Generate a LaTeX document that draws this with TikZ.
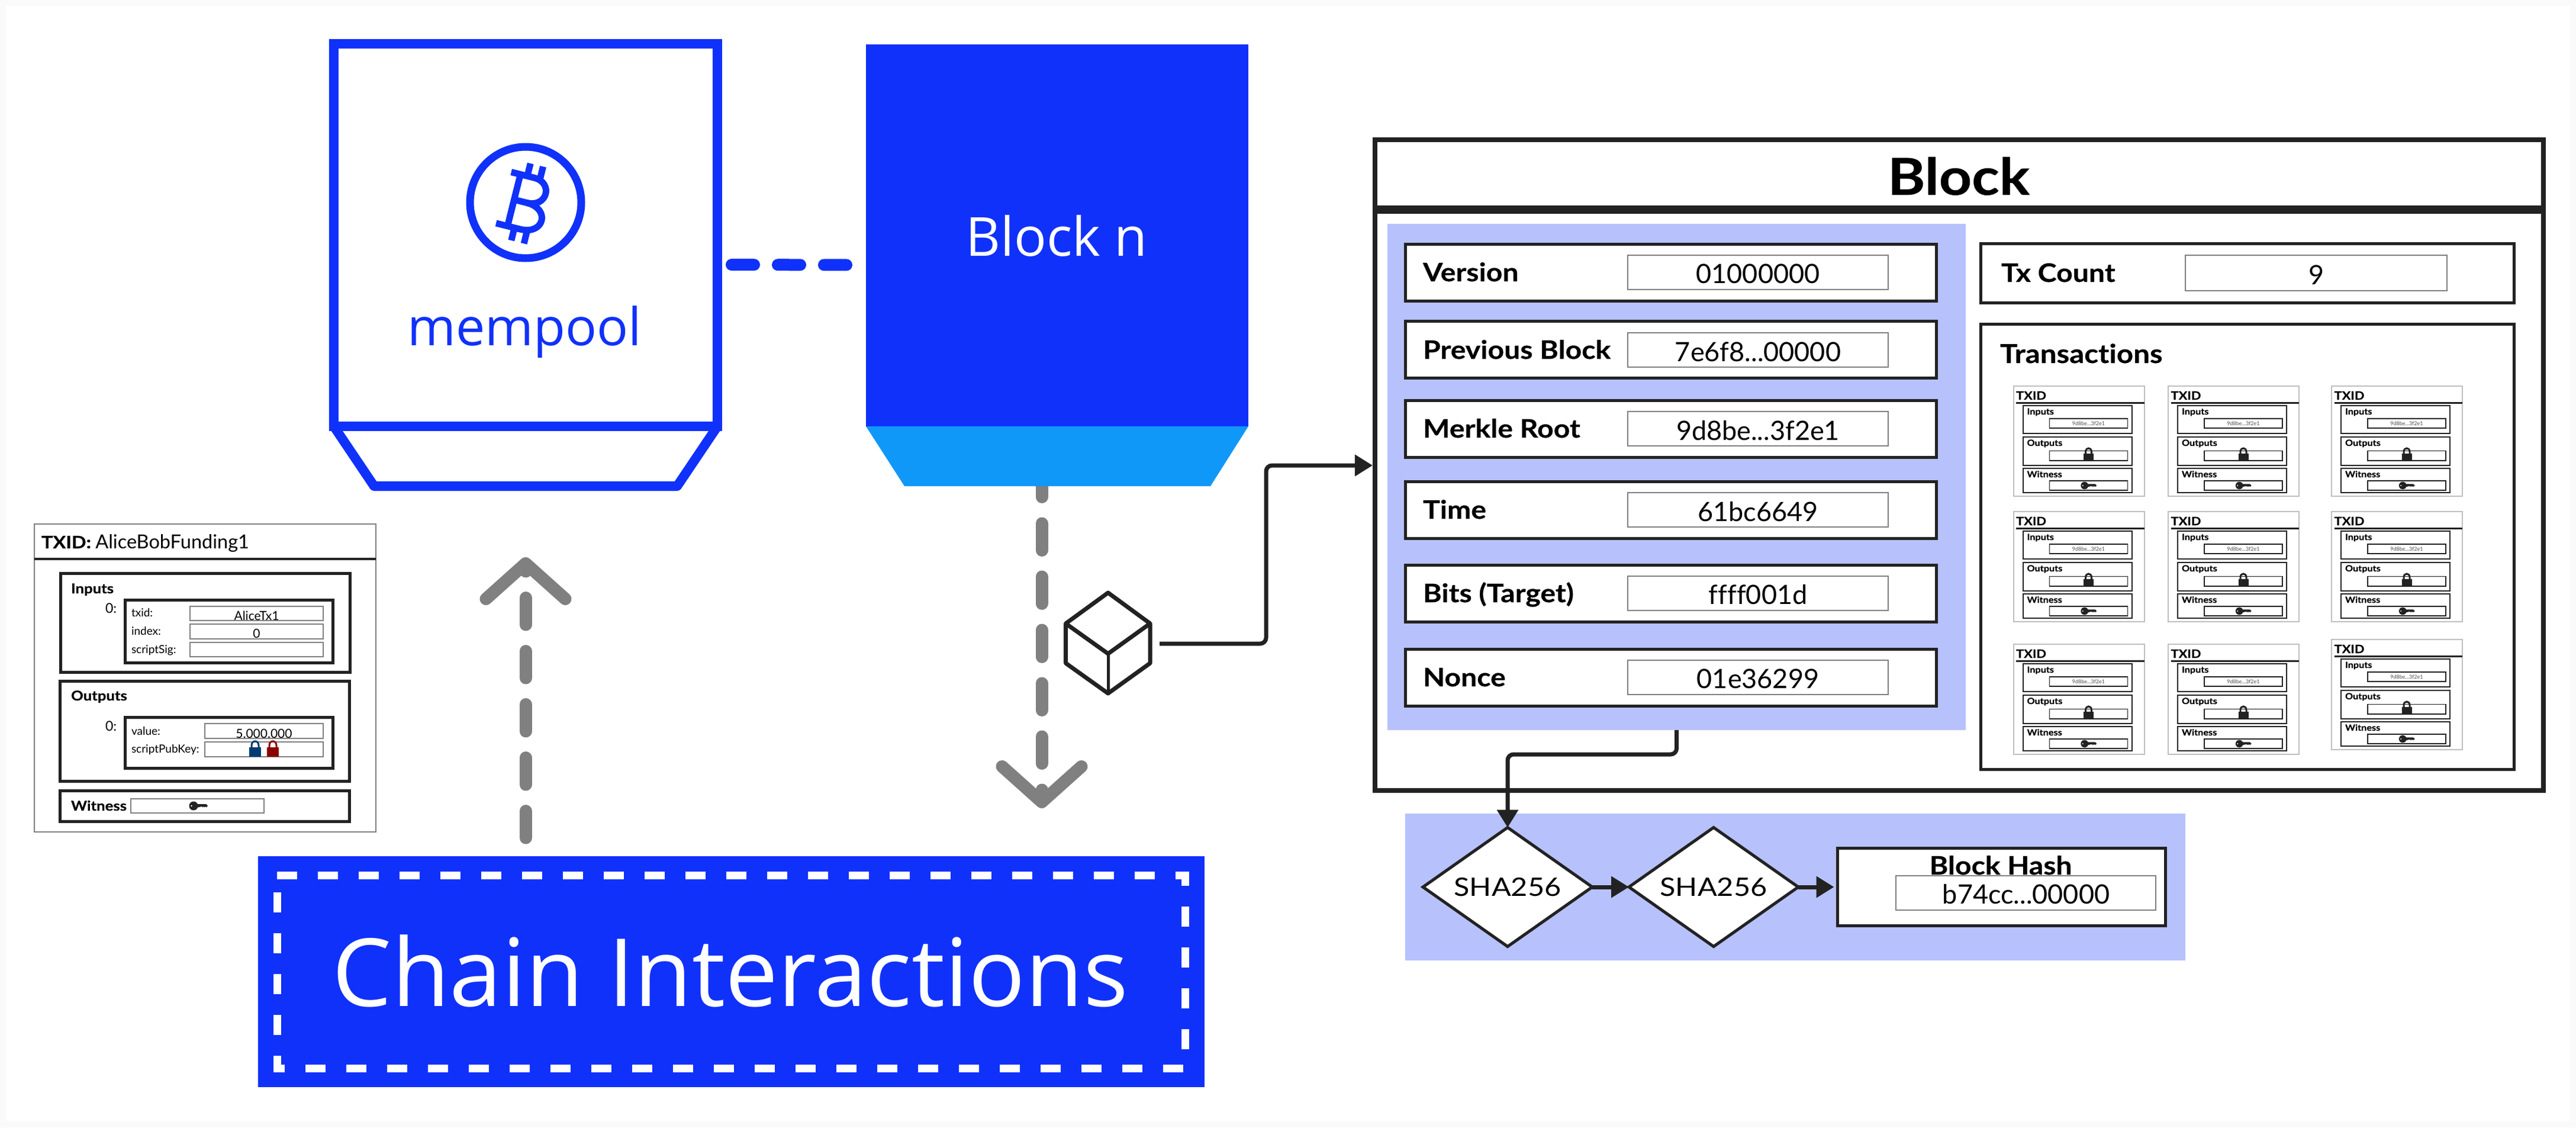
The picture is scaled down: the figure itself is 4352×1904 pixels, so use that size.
\documentclass[tikz,border=0pt]{standalone}
\usepackage{fontspec}
\setmainfont{Lato}[Ligatures=NoCommon, BoldFeatures={FakeStretch=1.12, FakeBold=0.4}]
\newfontfamily\displayfont{Open Sans}[Ligatures=NoCommon]
\newfontfamily\hashfont{Lato}[Ligatures=NoCommon, FakeStretch=1.13]
\usetikzlibrary{arrows.meta,calc,shapes.geometric}
\definecolor{chainblue}{HTML}{1031FA}
\definecolor{skyblue}{HTML}{1098F9}
\definecolor{panelblue}{HTML}{B7C1FC}
\definecolor{inkline}{HTML}{222222}
\definecolor{flowgray}{HTML}{808080}
\definecolor{edgewhite}{HTML}{FAFAFA}
\definecolor{lockblue}{HTML}{003C71}
\definecolor{lockred}{HTML}{8B0000}
\newcommand{\fpx}[1]{\fontsize{#1}{#1}\selectfont}
\tikzset{
  sized/.style 2 args={minimum width=#1pt, minimum height=#2pt, inner sep=0pt, outer sep=0pt},
  heavybox/.style={draw=inkline, fill=white, line width=5pt},
  fieldbox/.style={draw=flowgray, fill=white, line width=2pt},
  tag/.style={inner sep=0pt, outer sep=0pt, anchor=base west},
  midtag/.style={inner sep=0pt, outer sep=0pt, anchor=base},
  rowname/.style={tag, font=\fpx{43}\bfseries},
  rowvalue/.style={midtag, font=\fpx{45}},
  smallname/.style={tag, font=\fpx{23}\bfseries},
  smallfield/.style={tag, font=\fpx{19}},
  smallvalue/.style={midtag, font=\fpx{21}},
  conn/.style={draw=inkline, line width=7pt, rounded corners=10pt, -{Triangle[length=30pt,width=35pt]}},
  flow/.style={draw=flowgray, line width=21pt, line cap=round, dash pattern=on 45.4pt off 44.6pt,
    -{Straight Barb[round,length=60pt,width=134pt]}},
  padlock/.pic={
    \fill[pic actions] (-8,0) rectangle (8,-12);
    \draw[pic actions, fill=none, line width=3pt] (-5,-11) -- (-5,-15) .. controls (-5,-23) and (5,-23) .. (5,-15) -- (5,-11);
  },
  brasskey/.pic={
    \fill[pic actions] (-8,0) circle [radius=7.5];
    \fill[white] (-11.5,0) circle [radius=1.4];
    \fill[pic actions] (-3,-3) -- (13,-3) -- (16,-0.5) -- (14,2.5) -- (12,1) -- (11,2.5) -- (9,1) -- (8,2.5) -- (6,1) -- (-3,3) -- cycle;
  },
  txmini/.pic={
    \node[sized={221}{186}, draw=black!25, line width=2pt, fill=white] (-frame) at (110.5,93) {};
    \node[tag, font=\fpx{19.5}\bfseries] (-title) at (4.6,23) {TXID};
    \draw[draw=inkline, line width=3pt] (4.6,28.5) -- (221,28.5);
    \node[sized={184}{47}, draw=inkline, line width=2pt] (-ins) at (108,56.5) {};
    \node[sized={184}{48}, draw=inkline, line width=2pt] (-outs) at (108,110) {};
    \node[sized={184}{41}, draw=inkline, line width=2pt] (-wit) at (108,159.5) {};
    \node[sized={132}{16}, draw=inkline, line width=1.5pt] (-insval) at (127,63) {};
    \node[sized={132}{16.5}, draw=inkline, line width=1.5pt] (-outsval) at (127,117.7) {};
    \node[sized={132}{16}, draw=inkline, line width=1.5pt] (-witval) at (127,168) {};
    \node[tag, font=\fpx{14.5}\bfseries] (-intag) at (23,48) {Inputs};
    \node[tag, font=\fpx{14.5}\bfseries] (-outtag) at (23,101) {Outputs};
    \node[tag, font=\fpx{14.5}\bfseries] (-wittag) at (23,154) {Witness};
    \node[midtag, font=\fpx{9}, text=black!70] (-hash) at (127,66) {9d8be...3f2e1};
    \pic[fill=inkline, draw=inkline] at (127,126) {padlock};
    \pic[fill=inkline, scale=.85] at (127,168) {brasskey};
  }
}
\begin{document}
\begin{tikzpicture}[x=1pt, y=-1pt]
    \useasboundingbox (0,0) rectangle (4352,1904);
    \fill[edgewhite] (0,0) rectangle (4352,1904);
    \fill[white] (10,10) rectangle (4342,1893);

    % where the gray flows start and stop
    \coordinate (chainout) at (888,1415);
    \coordinate (mempoolin) at (888,941);
    \coordinate (blockout) at (1760,794);
    \coordinate (chainin) at (1760,1365);
    \draw [flow] (blockout) -- (chainin);

    % mempool
    \node [sized={648}{646}, draw=chainblue, line width=16pt] (mempool) at (888,397) {};
    \draw [draw=chainblue, line width=16pt, line join=round] (mempool.south west) -- (632,821) -- (1144,821) -- (mempool.south east);
    \node [circle, sized={188}{188}, draw=chainblue, line width=13pt] (coinring) at (888,342) {};
    \begin{scope}[shift={(888,342)}, rotate=-14, draw=chainblue, line width=11pt]
      \draw (-36,-44) -- (4,-44) .. controls (38,-44) and (38,0) .. (2,0) -- (-20,0);
      \draw (2,0) .. controls (44,0) and (44,46) .. (2,46) -- (-40,46);
      \draw (-20,-44) -- (-20,46);
      \draw (-8,-66) -- (-8,-44);
      \draw (14,-66) -- (14,-44);
      \draw (-8,46) -- (-8,68);
      \draw (14,46) -- (14,68);
    \end{scope}
    \node [midtag, font=\displayfont\fpx{88}, text=chainblue] (mempooltag) at (886,583) {mempool};

    % next block
    \node [sized={646}{645}, fill=chainblue] (blockn) at (1786,397.5) {};
    \fill [skyblue] (blockn.south west) -- (1528,821) -- (2045,821) -- (blockn.south east) -- cycle;
    \node [midtag, font=\displayfont\fpx{91}, text=white] (blockntag) at (1785,432) {Block n};
    \draw [draw=chainblue, line width=20pt, line cap=round, dash pattern=on 38pt off 40pt, shorten <=24pt, shorten >=32pt] ([yshift=-50pt]mempool.east) -- ([yshift=-50pt]blockn.west);

    % chain interactions
    \node [sized={1599}{390}, fill=chainblue] (chainbox) at (1235.5,1641) {};
    \draw [draw=white, line width=13pt, dash pattern=on 34pt off 35pt] (468,1478) -- (2002,1478) -- (2002,1804) -- (468,1804) -- cycle;
    \node [midtag, font=\displayfont\fpx{159}, text=white] (chaintag) at (1234,1699) {Chain Interactions};
    \draw [flow] (chainout) -- (mempoolin);

    % the transaction on the left
    \node [sized={577}{520}, draw=flowgray, line width=2.5pt] (txpanel) at (346.5,1145) {};
    \draw [draw=inkline, line width=3.5pt] (58,944) -- (635,944);
    \node [tag, font=\fpx{29}] (txtitle) at (70,926) {\textbf{TXID:} {\fpx{32.5}AliceBobFunding1}};
    \node [sized={489}{167}, heavybox] (inbox) at (346.5,1051.5) {};
    \node [sized={489}{169}, heavybox] (outbox) at (346,1235) {};
    \node [sized={489}{52}, heavybox] (witbox) at (346,1361) {};
    \node [smallname] (intag) at (120,1002) {Inputs};
    \node [smallname] (outtag) at (120,1183) {Outputs};
    \node [smallname] (wittag) at (120,1369) {Witness};
    \node [tag, font=\fpx{23}] (inzero) at (178,1035) {0:};
    \node [tag, font=\fpx{23}] (outzero) at (178,1234) {0:};
    \node [sized={351}{106}, heavybox] (ininner) at (386.5,1066) {};
    \node [sized={351}{86}, heavybox] (outinner) at (386.5,1254) {};
    \node [smallfield] (txidtag) at (222,1041.5) {txid:};
    \node [smallfield] (indextag) at (222,1072) {index:};
    \node [smallfield] (sigtag) at (222,1103) {scriptSig:};
    \node [sized={225}{24.5}, fieldbox] (txidval) at (433.5,1036) {};
    \node [sized={225}{25}, fieldbox] (indexval) at (433.5,1066.5) {};
    \node [sized={225}{24}, fieldbox] (sigval) at (433.5,1097) {};
    \node [smallvalue] (txidtxt) at (433.5,1047) {AliceTx1};
    \node [smallvalue] (indextxt) at (433.5,1077) {0};
    \node [smallfield] (valuetag) at (222,1241) {value:};
    \node [smallfield] (pubkeytag) at (222,1271) {scriptPubKey:};
    \node [sized={200}{25}, fieldbox] (valueval) at (446,1234.5) {};
    \node [sized={200}{25}, fieldbox] (pubkeyval) at (446,1265) {};
    \node [smallvalue] (valuetxt) at (446,1246.5) {5.000.000};
    \pic [fill=lockblue, draw=lockblue, scale=1.2] at (431,1277) {padlock};
    \pic [fill=lockred, draw=lockred, scale=1.2] at (461,1277) {padlock};
    \node [sized={225}{24}, fieldbox] (witval) at (333.5,1361) {};
    \pic [fill=inkline] at (335,1361) {brasskey};

    % cube that leaves the block
    \node [sized={143}{170}] (cube) at (1872,1086) {};
    \draw [draw=inkline, line width=7pt, line join=round] (1872,1001) -- (1943,1053) -- (1943,1120) -- (1872,1171) -- (1800.5,1120) -- (1800.5,1053) -- cycle;
    \draw [draw=inkline, line width=7pt, line join=round] (1800.5,1053) -- (1872,1104) -- (1943,1053);
    \draw [draw=inkline, line width=5pt] (1872,1104) -- (1872,1171);

    % block
    \node [sized={1974}{1099}, draw=inkline, line width=7.5pt, fill=white] (blockbox) at (3310,785.5) {};
    \draw [draw=inkline, line width=14pt] (2323,354) -- (4297,354);
    \node [midtag, font=\fpx{86}\bfseries] (blocktitle) at (3309,329) {Block};
    \node [sized={977}{855}, fill=panelblue] (headpanel) at (2832.5,805.5) {};

    \node [sized={897}{96}, heavybox] (versionrow) at (2822.5,460.5) {};
    \node [sized={897}{96}, heavybox] (prevrow) at (2822.5,590.5) {};
    \node [sized={897}{96}, heavybox] (merklerow) at (2822.5,724.5) {};
    \node [sized={897}{96}, heavybox] (timerow) at (2822.5,861) {};
    \node [sized={897}{96}, heavybox] (bitsrow) at (2822.5,1002) {};
    \node [sized={897}{96}, heavybox] (noncerow) at (2822.5,1144.5) {};
    \node [sized={440}{58}, fieldbox] (versionval) at (2970,460) {};
    \node [sized={440}{58}, fieldbox] (prevval) at (2970,591) {};
    \node [sized={440}{58}, fieldbox] (merkleval) at (2970,724) {};
    \node [sized={440}{58}, fieldbox] (timeval) at (2970,861) {};
    \node [sized={440}{58}, fieldbox] (bitsval) at (2970,1002) {};
    \node [sized={440}{58}, fieldbox] (nonceval) at (2970,1144) {};
    \node [rowname] (versiontag) at (2404,475) {Version};
    \node [rowname] (prevtag) at (2404,606) {Previous Block};
    \node [rowname] (merkletag) at (2404,739) {Merkle Root};
    \node [rowname] (timetag) at (2404,876) {Time};
    \node [rowname] (bitstag) at (2404,1017) {Bits (Target)};
    \node [rowname] (noncetag) at (2404,1159) {Nonce};
    \node [rowvalue] (versiontxt) at (2970,478) {01000000};
    \node [rowvalue] (prevtxt) at (2970,610) {7e6f8...00000};
    \node [rowvalue] (merkletxt) at (2970,743) {9d8be...3f2e1};
    \node [rowvalue] (timetxt) at (2970,880) {61bc6649};
    \node [rowvalue] (bitstxt) at (2970,1020.5) {ffff001d};
    \node [rowvalue] (noncetxt) at (2970,1162.5) {01e36299};

    \node [sized={901}{100}, heavybox] (countbox) at (3796.5,461) {};
    \node [rowname] (counttag) at (3381,476) {Tx Count};
    \node [sized={442}{60}, fieldbox] (countval) at (3913,460.5) {};
    \node [rowvalue] (counttxt) at (3913,480) {9};
    \node [sized={901}{752}, heavybox] (txbox) at (3796.5,923) {};
    \node [tag, font=\fpx{44}\bfseries] (txtag) at (3379,613) {Transactions};
    \pic (txa) at (3401.5,652) {txmini};
    \pic (txb) at (3663,652) {txmini};
    \pic (txc) at (3939,652) {txmini};
    \pic (txd) at (3401.5,864) {txmini};
    \pic (txe) at (3663,864) {txmini};
    \pic (txf) at (3939,864) {txmini};
    \pic (txg) at (3401.5,1088) {txmini};
    \pic (txh) at (3663,1088) {txmini};
    \pic (txi) at (3939,1080) {txmini};

    % hashing
    \node [sized={1318}{248}, fill=panelblue] (hashpanel) at (3033,1498) {};
    \node [diamond, sized={286}{201}, aspect=1.42, draw=inkline, line width=5pt, fill=white, font=\hashfont\fpx{43}] (shaone) at (2547,1498) {SHA256};
    \node [diamond, sized={286}{201}, aspect=1.42, draw=inkline, line width=5pt, fill=white, font=\hashfont\fpx{43}] (shatwo) at (2895,1498) {SHA256};
    \node [sized={554}{131}, heavybox] (hashbox) at (3381.5,1498) {};
    \node [midtag, font=\fpx{43}\bfseries] (hashtag) at (3380,1477) {Block Hash};
    \node [sized={439}{58}, fieldbox] (hashval) at (3422.5,1508) {};
    \node [rowvalue] (hashtxt) at (3423,1526) {b74cc...00000};

    % connectors
    \coordinate (cubeout) at (1959,1087);
    \coordinate (blockin) at (2319,786);
    \draw [conn] (cubeout) -| ($(cubeout)!.5!(blockin)$) |- (blockin);
    \draw [conn] (headpanel.south) -- ++(0,41) -| (shaone.north);
    \draw [conn] (shaone.east) -- (shatwo.west);
    \draw [conn, shorten >=6pt] (shatwo.east) -- (hashbox.west);
\end{tikzpicture}
\end{document}
